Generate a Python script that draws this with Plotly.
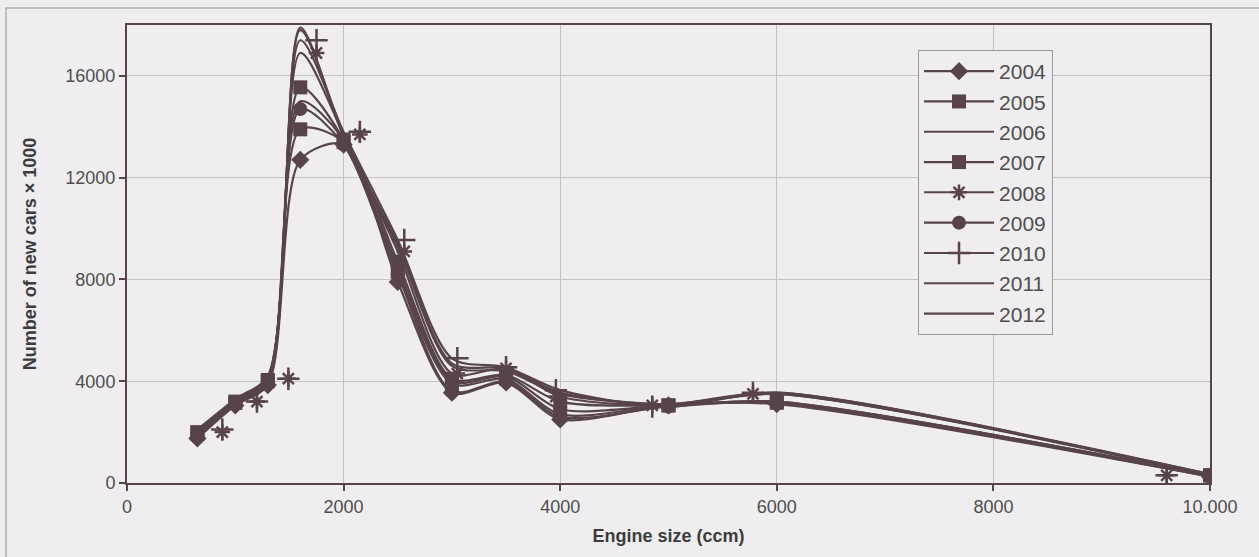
import plotly.graph_objects as go

# Engine size classes (ccm)
engine_size = [650, 1000, 1300, 1600, 2000, 2500, 3000, 3500, 4000, 5000, 6000, 10000]
# marker positions as printed for the 2008 / 2010 series (shifted in the original print)
engine_size_marks_shifted = [880, 1200, 1490, 1750, 2150, 2560, 3050, 3500, 3960, 4850, 5780, 9600]

years = ["2004", "2005", "2006", "2007", "2008", "2009", "2010", "2011", "2012"]

cars_2004 = [1750, 3050, 3850, 12700, 13300, 7900, 3550, 3950, 2500, 3050, 3100, 250]
cars_2005 = [1950, 3150, 4000, 15550, 13500, 8300, 3900, 4100, 2700, 3050, 3150, 300]
cars_2006 = [1900, 3150, 4000, 15000, 13500, 8500, 4000, 4200, 2900, 3050, 3200, 300]
cars_2007 = [2000, 3200, 4050, 13900, 13400, 8700, 4100, 4250, 3200, 3050, 3200, 300]
cars_2008 = [2000, 3200, 4100, 16900, 13700, 9100, 4300, 4500, 3400, 3050, 3500, 300]
cars_2009 = [1850, 3100, 3900, 14700, 13300, 8200, 3600, 4000, 2600, 3000, 3150, 250]
cars_2010 = [2100, 3200, 4100, 17400, 13800, 9550, 4900, 4550, 3650, 3000, 3550, 300]
cars_2011 = [2050, 3250, 4150, 17800, 13700, 9300, 4600, 4400, 3500, 3100, 3500, 350]
cars_2012 = [2100, 3300, 4200, 17900, 13600, 9400, 4700, 4500, 3550, 3100, 3550, 350]

series = [cars_2004, cars_2005, cars_2006, cars_2007, cars_2008,
          cars_2009, cars_2010, cars_2011, cars_2012]
symbols = ["diamond", "square", None, "square", "asterisk", "circle", "cross-thin", None, None]
sizes = [14, 14, 0, 14, 13, 14, 16, 0, 0]
shifted = [False, False, False, False, True, False, True, False, False]

x_ticks = [0, 2000, 4000, 6000, 8000, 10000]
x_ticktext = ["0", "2000", "4000", "6000", "8000", "10.000"]
y_ticks = [0, 4000, 8000, 12000, 16000]
y_ticktext = ["0", "4000", "8000", "12000", "16000"]

LINE = "#57444a"
BG = "#efedef"
FONT = "Liberation Sans, Arial, sans-serif"
SMOOTH = 0.8

fig = go.Figure()
for yr, ys, sym, sz, sh in zip(years, series, symbols, sizes, shifted):
    marker = None
    if sym is not None:
        marker = dict(symbol=sym, size=sz, color=LINE,
                      line=dict(color=LINE, width=2.5 if sym in ("asterisk", "cross-thin") else 0))
    line = dict(color=LINE, width=2.2, shape="spline", smoothing=SMOOTH)
    if sym is None:
        fig.add_trace(go.Scatter(x=engine_size, y=ys, mode="lines", name=yr, line=line))
    elif not sh:
        fig.add_trace(go.Scatter(x=engine_size, y=ys, mode="lines+markers", name=yr,
                                 line=line, marker=marker))
    else:
        fig.add_trace(go.Scatter(x=engine_size, y=ys, mode="lines", name=yr, legendgroup=yr,
                                 showlegend=False, line=line))
        fig.add_trace(go.Scatter(x=engine_size_marks_shifted, y=ys, mode="markers", name=yr,
                                 legendgroup=yr, showlegend=False, marker=marker))
        fig.add_trace(go.Scatter(x=[None], y=[None], mode="lines+markers", name=yr,
                                 legendgroup=yr, showlegend=True,
                                 line=dict(color=LINE, width=2), marker=marker))

fig.update_layout(
    width=1259, height=557,
    margin=dict(l=127, r=49, t=25, b=74),
    paper_bgcolor=BG, plot_bgcolor=BG,
    font=dict(family=FONT, size=18, color="#4e4e4e"),
    showlegend=True,
    legend=dict(x=0.7304, y=(483 - 50) / 458, xanchor="left", yanchor="top",
                bgcolor=BG, bordercolor="#9a9a9a", borderwidth=1,
                font=dict(size=21, color="#4e4e4e"), traceorder="normal",
                itemwidth=70, tracegroupgap=0),
    xaxis=dict(range=[0, 10000], tickvals=x_ticks, ticktext=x_ticktext,
               showgrid=True, gridcolor="#c4c2c4", gridwidth=1,
               showline=True, linecolor=LINE, linewidth=2, mirror=True,
               ticks="outside", ticklen=6, tickcolor=LINE, tickwidth=2,
               zeroline=False,
               title=dict(text="<b>Engine size (ccm)</b>", standoff=14,
                          font=dict(size=18, color="#3c3c3c"))),
    yaxis=dict(range=[0, 18000], tickvals=y_ticks, ticktext=y_ticktext,
               showgrid=True, gridcolor="#c4c2c4", gridwidth=1,
               showline=True, linecolor=LINE, linewidth=2, mirror=True,
               ticks="outside", ticklen=6, tickcolor=LINE, tickwidth=2,
               zeroline=False,
               title=dict(text="<b>Number of new cars × 1000</b>", standoff=24,
                          font=dict(size=18, color="#3c3c3c"))),
    shapes=[dict(type="rect", xref="paper", yref="paper",
                 x0=-(127 - 6) / 1083, x1=(1270 - 127) / 1083,
                 y0=-(570 - 483) / 458, y1=(483 - 8) / 458,
                 line=dict(color="#b0aeb0", width=1.5), layer="below")],
)

fig.write_html("out.html", config={"displayModeBar": False},
               post_script="document.body.style.margin='0';document.body.style.background='#efedef';")
